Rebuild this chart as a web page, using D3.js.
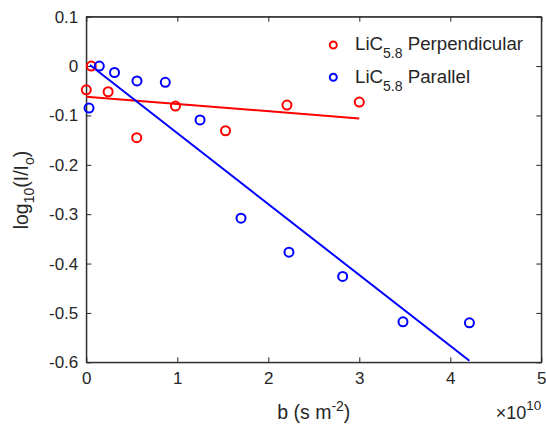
<!DOCTYPE html>
<html>
<head>
<meta charset="utf-8">
<script src="https://cdn.jsdelivr.net/npm/d3@7"></script>
<style>
    body { margin: 0; background: #fff; }
    text { font-family: "Liberation Sans", Arial, sans-serif; fill: #262626; }
</style>
</head>
<body>
<div id="chart"></div>
<script>
// b values are in units of 1e10 s m^-2
var perpX = [0.0, 0.055, 0.24, 0.554, 0.98, 1.53, 2.205, 3.0]
var perpY = [-0.048, 0.0, -0.052, -0.145, -0.081, -0.131, -0.079, -0.073]

var paraX = [0.03, 0.143, 0.31, 0.557, 0.868, 1.25, 1.70, 2.227, 2.817, 3.48, 4.21]
var paraY = [-0.085, 0.0, -0.013, -0.030, -0.033, -0.109, -0.308, -0.377, -0.426, -0.518, -0.520]

// fitted lines (end points)
var perpFitX = [0.0, 3.0]
var perpFitY = [-0.062, -0.106]
var paraFitX = [0.04, 4.21]
var paraFitY = [0.002, -0.597]

var xTicks = [0, 1, 2, 3, 4, 5]
var yTicks = [0.1, 0, -0.1, -0.2, -0.3, -0.4, -0.5, -0.6]

var width = 546
var height = 427
var plotLeft = 86.3, plotRight = 541.3, plotTop = 16.7, plotBottom = 362.3

var svg = d3.select('#chart')
    .append('svg')
    .attr('width', width)
    .attr('height', height)

var xScale = d3.scaleLinear().domain([0, 5]).range([plotLeft, plotRight])
var yScale = d3.scaleLinear().domain([-0.6, 0.1]).range([plotBottom, plotTop])

var axisColor = '#262626'

// box
svg.append('rect')
    .attr('x', plotLeft).attr('y', plotTop)
    .attr('width', plotRight - plotLeft).attr('height', plotBottom - plotTop)
    .attr('fill', 'none')
    .attr('stroke', axisColor)
    .attr('stroke-width', 1)

// axes with inward ticks
var xAxis = d3.axisBottom(xScale).tickValues(xTicks).tickSizeInner(-5).tickSizeOuter(0).tickPadding(10)
    .tickFormat(d3.format('d'))
var yAxis = d3.axisLeft(yScale).tickValues(yTicks).tickSizeInner(-5).tickSizeOuter(0).tickPadding(8)
    .tickFormat(d => d === 0 ? '0' : d.toFixed(1))   // plain hyphen minus like the original

var gx = svg.append('g').attr('transform', 'translate(0,' + plotBottom + ')').call(xAxis)
var gy = svg.append('g').attr('transform', 'translate(' + plotLeft + ',0)').call(yAxis)

// top and right ticks
svg.append('g').attr('transform', 'translate(0,' + plotTop + ')')
    .call(d3.axisTop(xScale).tickValues(xTicks).tickSizeInner(-5).tickSizeOuter(0).tickFormat(''))
svg.append('g').attr('transform', 'translate(' + plotRight + ',0)')
    .call(d3.axisRight(yScale).tickValues(yTicks).tickSizeInner(-5).tickSizeOuter(0).tickFormat(''))

svg.selectAll('.domain').attr('stroke', axisColor)
svg.selectAll('.tick line').attr('stroke', axisColor)
svg.selectAll('.tick text')
    .style('font-family', '"Liberation Sans", Arial, sans-serif')
    .style('font-size', '17px')
    .attr('fill', '#404040')
gx.selectAll('.tick text').attr('dy', '0.71em')

// fit lines
var line = d3.line().x(d => xScale(d[0])).y(d => yScale(d[1]))

svg.append('path')
    .datum(d3.zip(perpFitX, perpFitY))
    .attr('d', line)
    .attr('fill', 'none')
    .attr('stroke', '#ff0000')
    .attr('stroke-width', 2)

svg.append('path')
    .datum(d3.zip(paraFitX, paraFitY))
    .attr('d', line)
    .attr('fill', 'none')
    .attr('stroke', '#0000ff')
    .attr('stroke-width', 2)

// markers
svg.append('g').selectAll('circle')
    .data(d3.zip(perpX, perpY))
    .enter()
    .append('circle')
    .attr('cx', d => xScale(d[0]))
    .attr('cy', d => yScale(d[1]))
    .attr('r', 4.5)
    .attr('fill', 'none')
    .attr('stroke', '#ff0000')
    .attr('stroke-width', 2)

svg.append('g').selectAll('circle')
    .data(d3.zip(paraX, paraY))
    .enter()
    .append('circle')
    .attr('cx', d => xScale(d[0]))
    .attr('cy', d => yScale(d[1]))
    .attr('r', 4.5)
    .attr('fill', 'none')
    .attr('stroke', '#0000ff')
    .attr('stroke-width', 2)

// legend
var legendItems = [
    { name: 'Perpendicular', color: '#ff0000' },
    { name: 'Parallel', color: '#0000ff' }
]
var legend = svg.append('g')
legendItems.forEach((item, i) => {
    var y = 45 + i * 32.3
    legend.append('circle')
        .attr('cx', 333.3).attr('cy', y)
        .attr('r', 3.5)
        .attr('fill', 'none')
        .attr('stroke', item.color)
        .attr('stroke-width', 2)
    var t = legend.append('text')
        .attr('x', 355).attr('y', y + 5.3)
        .style('font-size', '18.7px')
        .attr('fill', '#1a1a1a')
    t.append('tspan').text('LiC')
    t.append('tspan').attr('dy', 8).style('font-size', '14px').text('5.8')
    t.append('tspan').attr('dy', -8).text(' ' + item.name)
})

// axis labels
var xl = svg.append('text')
    .attr('x', (plotLeft + plotRight) / 2)
    .attr('y', 419)
    .attr('text-anchor', 'middle')
    .style('font-size', '19.5px')
xl.append('tspan').text('b (s m')
xl.append('tspan').attr('dy', -8).style('font-size', '14px').text('-2')
xl.append('tspan').attr('dy', 8).text(')')

var yl = svg.append('text')
    .attr('transform', 'translate(28,190) rotate(-90)')
    .attr('text-anchor', 'middle')
    .style('font-size', '19.5px')
yl.append('tspan').text('log')
yl.append('tspan').attr('dy', 6).style('font-size', '14px').text('10')
yl.append('tspan').attr('dy', -6).text('(I/I')
yl.append('tspan').attr('dy', 6).style('font-size', '14px').text('o')
yl.append('tspan').attr('dy', -6).text(')')

// exponent label
var ex = svg.append('text')
    .attr('x', plotRight)
    .attr('y', 418.5)
    .attr('text-anchor', 'end')
    .style('font-size', '18px')
    .attr('fill', '#404040')
ex.append('tspan').text('\u00d710')
ex.append('tspan').attr('dy', -9).style('font-size', '13.5px').text('10')
</script>
</body>
</html>
